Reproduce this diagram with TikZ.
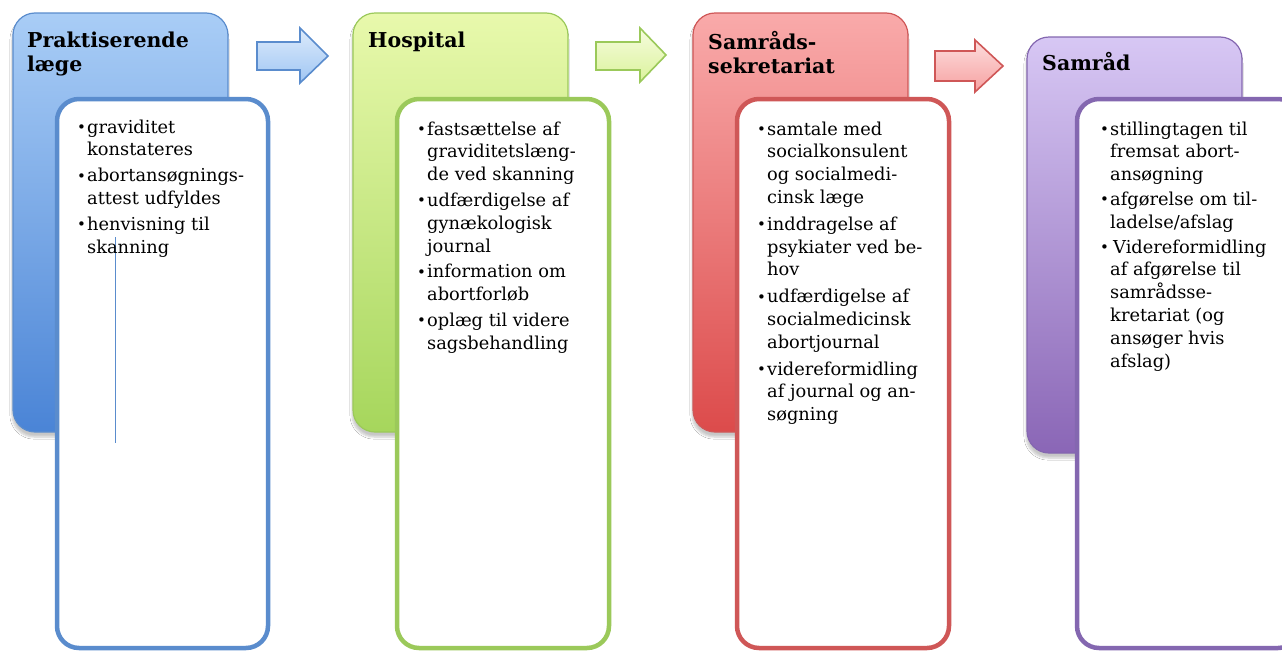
\documentclass[tikz,border=0pt]{standalone}
\usepackage{fontspec}
\setmainfont{DejaVu Serif}
\usetikzlibrary{shadows.blur}

\definecolor{blaaTop}{HTML}{A9CDF6}
\definecolor{blaaBund}{HTML}{4A84D6}
\definecolor{blaaKant}{HTML}{5A8CCD}
\definecolor{groenTop}{HTML}{E8F9AC}
\definecolor{groenBund}{HTML}{A6D65C}
\definecolor{groenKant}{HTML}{9BC95A}
\definecolor{roedTop}{HTML}{F9AAAA}
\definecolor{roedBund}{HTML}{DC4B4B}
\definecolor{roedKant}{HTML}{CF5757}
\definecolor{lillaTop}{HTML}{D7C7F4}
\definecolor{lillaBund}{HTML}{8A66B6}
\definecolor{lillaKant}{HTML}{8467B0}

\newcommand{\pkt}{\makebox[10pt][l]{\fontsize{15}{15}\selectfont\raisebox{0.5pt}{•}}}

\begin{document}
\begin{tikzpicture}[x=1pt,y=-1pt,
    ydre/.style={rounded corners=22pt, line width=1.2pt,
        blur shadow={shadow xshift=-1pt, shadow yshift=-5pt, shadow opacity=22, shadow blur steps=6}},
    indre/.style={rounded corners=22pt, line width=4.5pt, fill=white},
    pil/.style={line width=1.6pt, line join=miter},
    titel/.style={anchor=base west, inner sep=0pt, font=\bfseries\fontsize{20.5}{24.5}\selectfont},
    liste/.style={anchor=base west, inner sep=0pt, font=\fontsize{17.8}{22.8}\selectfont}]
    \useasboundingbox[fill=white] (0,0) rectangle (1282,651);

    % praktiserende laege
    \path[ydre, draw=blaaKant, top color=blaaTop, bottom color=blaaBund] (13,13) rectangle (228,432);
    \draw[indre, draw=blaaKant] (57,99) rectangle (268,648);
    \draw[blaaKant, line width=0.8pt] (115,237) -- (115,443);
    \node[titel] (prak) at (27,47) {\begin{tabular}[t]{@{}l@{}}Praktiserende\\læge\end{tabular}};
    \node[liste] (prakliste) at (77,133) {\begin{tabular}[t]{@{}l@{}l@{}}
        \pkt & graviditet\\ & konstateres\\[3pt]
        \pkt & abortansøgnings-\\ & attest udfyldes\\[3pt]
        \pkt & henvisning til\\ & skanning
    \end{tabular}};
    \path[pil, draw=blaaKant, top color=blaaTop!40, bottom color=blaaTop!90!blaaBund]
        (257,42) -- (300,42) -- (300,28) -- (328,56) -- (300,83) -- (300,70) -- (257,70) -- cycle;

    % hospital
    \path[ydre, draw=groenKant, top color=groenTop, bottom color=groenBund] (353,13) rectangle (568,432);
    \draw[indre, draw=groenKant] (397,99) rectangle (609,648);
    \node[titel] (hosp) at (368,47) {Hospital};
    \node[liste] (hospliste) at (417,135) {\begin{tabular}[t]{@{}l@{}l@{}}
        \pkt & fastsættelse af\\ & graviditetslæng-\\ & de ved skanning\\[3pt]
        \pkt & udfærdigelse af\\ & gynækologisk\\ & journal\\[3pt]
        \pkt & information om\\ & abortforløb\\[3pt]
        \pkt & oplæg til videre\\ & sagsbehandling
    \end{tabular}};
    \path[pil, draw=groenKant, top color=groenTop!40, bottom color=groenTop!80!groenBund]
        (596,42) -- (640,42) -- (640,28) -- (666,55) -- (640,82) -- (640,70) -- (596,70) -- cycle;

    % samraadssekretariat
    \path[ydre, draw=roedKant, top color=roedTop, bottom color=roedBund] (693,13) rectangle (908,432);
    \draw[indre, draw=roedKant] (737,99) rectangle (949,648);
    \node[titel] (sekr) at (708,49) {\begin{tabular}[t]{@{}l@{}}Samråds-\\sekretariat\end{tabular}};
    \node[liste] (sekrliste) at (757,135) {\begin{tabular}[t]{@{}l@{}l@{}}
        \pkt & samtale med\\ & socialkonsulent\\ & og socialmedi-\\ & cinsk læge\\[4pt]
        \pkt & inddragelse af\\ & psykiater ved be-\\ & hov\\[4pt]
        \pkt & udfærdigelse af\\ & socialmedicinsk\\ & abortjournal\\[4pt]
        \pkt & videreformidling\\ & af journal og an-\\ & søgning
    \end{tabular}};
    \path[pil, draw=roedKant, top color=roedTop!40, bottom color=roedTop!90!roedBund]
        (935,51) -- (975,51) -- (975,40) -- (1003,66) -- (975,92) -- (975,81) -- (935,81) -- cycle;

    % samraad
    \path[ydre, draw=lillaKant, top color=lillaTop, bottom color=lillaBund] (1027,37) rectangle (1242,453);
    \draw[indre, draw=lillaKant] (1077,99) rectangle (1300,648);
    \node[titel] (samr) at (1042,70) {Samråd};
    \node[liste] (samrliste) at (1100,135) {\begin{tabular}[t]{@{}l@{}l@{}}
        \pkt & stillingtagen til\\ & fremsat abort-\\ & ansøgning\\[2pt]
        \pkt & afgørelse om til-\\ & ladelse/afslag\\[2pt]
        \pkt & \hspace{3pt}Videreformidling\\ & af afgørelse til\\ & samrådsse-\\ & kretariat (og\\ & ansøger hvis\\ & afslag)
    \end{tabular}};
\end{tikzpicture}
\end{document}
